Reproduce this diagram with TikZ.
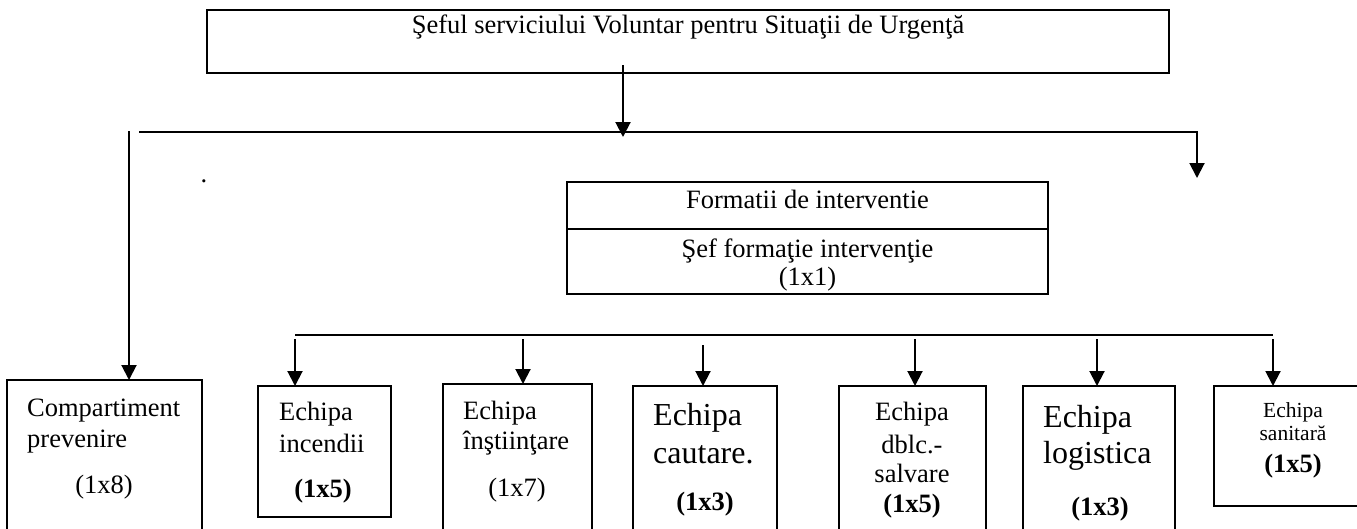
\documentclass[tikz,border=0pt]{standalone}
\usepackage{fontspec}
\setmainfont{Liberation Serif}
\usetikzlibrary{positioning,arrows.meta}

\begin{document}
\begin{tikzpicture}[x=1pt,y=-1pt,
        box/.style={rectangle, draw, line width=2pt, inner sep=0pt, outer sep=0pt, anchor=north west},
        headbox/.style={box, line width=2.6pt},
        txt/.style={inner sep=0pt, font=\fontsize{26.5}{31}\selectfont},
        bigtxt/.style={inner sep=0pt, font=\fontsize{32}{38}\selectfont},
        smalltxt/.style={inner sep=0pt, font=\fontsize{21.5}{24}\selectfont},
        num/.style={inner sep=0pt, font=\fontsize{26.5}{31}\selectfont\bfseries},
        link/.style={line width=2pt},
        arr/.style={link, -{Triangle[width=15pt,length=15pt]}}]

        \clip (0,0) rectangle (1357,528);

        \node[headbox, minimum width=962pt, minimum height=63pt] (sef) at (207,10) {};
        \node[txt, anchor=base] (sefT) at (688,33) {Şeful serviciului Voluntar pentru Situaţii de Urgenţă};

        \node[headbox, minimum width=481pt, minimum height=47pt] (formHead) at (567,182) {};
        \node[headbox, minimum width=481pt, minimum height=65pt, below=0pt of formHead] (formBody) {};
        \node[txt, anchor=base] (formT) at (807.5,208) {Formatii de interventie};
        \node[txt, anchor=base] (sefF) at (807.5,257) {Şef formaţie intervenţie};
        \node[txt, anchor=base] (sefFn) at (807.5,285) {(1x1)};

        \node[txt, anchor=base] (dot) at (204,182) {.};

        \node[box, minimum width=195pt, minimum height=160pt] (comp) at (7,380) {};
        \node[box, minimum width=133pt, minimum height=131pt] (inc) at (258,386) {};
        \node[box, minimum width=149pt, minimum height=160pt] (inst) at (443,384) {};
        \node[box, minimum width=144pt, minimum height=160pt] (caut) at (633,386) {};
        \node[box, minimum width=147pt, minimum height=160pt] (dblc) at (839,386) {};
        \node[box, minimum width=152pt, minimum height=160pt] (log) at (1023,386) {};
        \node[box, minimum width=150pt, minimum height=120pt] (san) at (1214,386) {};

        \node[txt, anchor=base west] (compT1) at (27,416) {Compartiment};
        \node[txt, anchor=base west] (compT2) at (27,447) {prevenire};
        \node[txt, anchor=base] (compN) at (104,493) {(1x8)};

        \node[txt, anchor=base west] (incT1) at (279,420) {Echipa};
        \node[txt, anchor=base west] (incT2) at (279,452) {incendii};
        \node[num, anchor=base] (incN) at (323,497) {(1x5)};

        \node[txt, anchor=base west] (instT1) at (463,419) {Echipa};
        \node[txt, anchor=base west] (instT2) at (463,449) {înştiinţare};
        \node[txt, anchor=base] (instN) at (517,496) {(1x7)};

        \node[bigtxt, anchor=base west] (cautT1) at (653,425) {Echipa};
        \node[bigtxt, anchor=base west] (cautT2) at (653,463) {cautare.};
        \node[num, anchor=base] (cautN) at (705,510) {(1x3)};

        \node[txt, anchor=base] (dblcT1) at (912,420) {Echipa};
        \node[txt, anchor=base] (dblcT2) at (912,453) {dblc.-};
        \node[txt, anchor=base] (dblcT3) at (912,482) {salvare};
        \node[num, anchor=base] (dblcN) at (912,512) {(1x5)};

        \node[bigtxt, anchor=base west] (logT1) at (1043,427) {Echipa};
        \node[bigtxt, anchor=base west] (logT2) at (1043,463) {logistica};
        \node[num, anchor=base] (logN) at (1100,515) {(1x3)};

        \node[smalltxt, anchor=base] (sanT1) at (1293,417) {Echipa};
        \node[smalltxt, anchor=base] (sanT2) at (1293,440) {sanitară};
        \node[num, anchor=base] (sanN) at (1293,472) {(1x5)};

        \coordinate (sefOut) at (623,65);
        \coordinate (busL) at (139,132);
        \coordinate (busR) at (1197,132);
        \coordinate (rightEnd) at (1197,178);
        \coordinate (leftTop) at (129,131);
        \coordinate (busB) at (295,335);
        \coordinate (busE) at (1273,335);

        \draw[arr, shorten >=-5pt] (sefOut) -- (sefOut |- busL);
        \draw[arr] (busL) -- (busR) -- (rightEnd);
        \draw[arr] (leftTop) -- (leftTop |- comp.north);
        \draw[link] (busB) -- (busE);
        \foreach \ax/\ay/\bn in {295/339/inc, 523/339/inst, 703/345/caut, 915/339/dblc, 1097/339/log, 1273/339/san}
            \draw[arr] (\ax,\ay) coordinate (top\bn) -- (top\bn |- \bn.north);

\end{tikzpicture}
\end{document}
